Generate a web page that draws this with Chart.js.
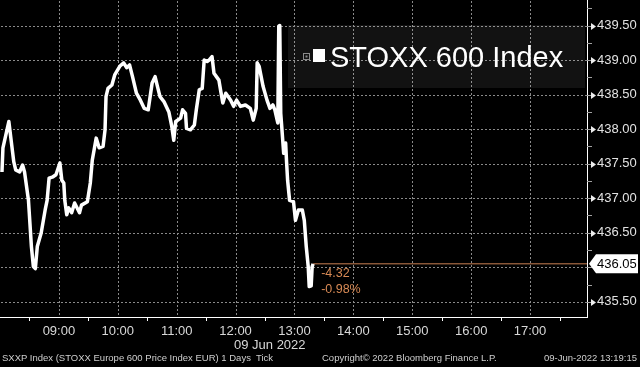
<!DOCTYPE html>
<html>
<head>
<meta charset="utf-8">
<script src="https://cdn.jsdelivr.net/npm/chart.js@4.4.1/dist/chart.umd.min.js"></script>
<style>
  html, body { margin: 0; padding: 0; background: #000; }
  #wrap { position: relative; width: 640px; height: 367px; overflow: hidden; font-family: "Liberation Sans", Arial, sans-serif; }
  #chart { position: absolute; left: 0; top: 0; }
  .txt { position: absolute; white-space: nowrap; color: #d8d8d8; }
  #day { left: 234px; top: 337px; font-size: 13px; }
  .foot { top: 352px; font-size: 9.5px; color: #cfcfcf; }
</style>
</head>
<body>
<div id="wrap">
  <canvas id="chart" width="640" height="367"></canvas>
  <div class="txt" id="day">09 Jun 2022</div>
  <div class="txt foot" style="left:2px">SXXP Index (STOXX Europe 600 Price Index EUR) 1 Days&nbsp; Tick</div>
  <div class="txt foot" style="left:322px">Copyright© 2022 Bloomberg Finance L.P.</div>
  <div class="txt foot" style="right:3px">09-Jun-2022 13:19:15</div>
</div>
<script>
// intraday ticks
const times = [
  '08:02', '08:03', '08:09', '08:14', '08:16', '08:20', '08:23', '08:25', '08:29', '08:32',
  '08:34', '08:36', '08:38', '08:42', '08:46', '08:48', '08:50', '08:54', '08:57', '09:01',
  '09:03', '09:05', '09:06', '09:08', '09:10', '09:13', '09:16', '09:21', '09:23', '09:29',
  '09:32', '09:34', '09:38', '09:41', '09:45', '09:47', '09:48', '09:50', '09:54', '09:57',
  '10:02', '10:06', '10:09', '10:12', '10:15', '10:19', '10:23', '10:27', '10:31', '10:35',
  '10:38', '10:40', '10:43', '10:47', '10:52', '10:55', '10:57', '10:59', '11:04', '11:06',
  '11:09', '11:10', '11:14', '11:18', '11:20', '11:23', '11:26', '11:28', '11:31', '11:33',
  '11:36', '11:38', '11:43', '11:45', '11:47', '11:50', '11:55', '11:58', '12:01', '12:05',
  '12:10', '12:15', '12:18', '12:21', '12:22', '12:24', '12:28', '12:32', '12:35', '12:38',
  '12:40', '12:43', '12:44', '12:45', '12:46', '12:47', '12:49', '12:51', '12:52', '12:53',
  '12:55', '12:59', '13:01', '13:04', '13:08', '13:10', '13:12', '13:14', '13:15', '13:17',
  '13:18', '13:19'
];
const prices = [
  437.38, 437.73, 438.11, 437.53, 437.41, 437.38, 437.48, 437.38, 436.97, 436.30,
  436.01, 435.98, 436.30, 436.50, 436.83, 436.97, 437.29, 437.31, 437.34, 437.51,
  437.26, 437.22, 436.97, 436.76, 436.86, 436.79, 436.93, 436.79, 436.90, 436.95,
  437.22, 437.55, 437.87, 437.73, 437.75, 437.99, 438.47, 438.59, 438.64, 438.79,
  438.91, 438.96, 438.89, 438.93, 438.76, 438.52, 438.42, 438.30, 438.28, 438.67,
  438.76, 438.64, 438.47, 438.40, 438.25, 438.04, 437.84, 438.11, 438.16, 438.28,
  438.23, 438.01, 437.99, 438.06, 438.28, 438.57, 438.59, 439.00, 438.98, 439.00,
  439.05, 438.81, 438.71, 438.54, 438.38, 438.52, 438.42, 438.33, 438.42, 438.33,
  438.35, 438.30, 438.13, 438.30, 438.96, 438.91, 438.62, 438.42, 438.30, 438.35,
  438.28, 438.09, 439.49, 439.50, 438.23, 438.04, 437.65, 437.80, 437.51, 437.26,
  436.97, 436.95, 436.68, 436.83, 436.83, 436.68, 436.30, 436.01, 435.72, 435.73,
  436.01, 436.05
];
const prevClose = 440.37;
const seriesName = 'STOXX 600 Index';

// axes: labelled hours / half-hour tick marks, 0.50 grid / 0.25 minor marks
const xHours = ['09:00', '10:00', '11:00', '12:00', '13:00', '14:00', '15:00', '16:00', '17:00'];
const xHalfHours = [
  '08:30', '09:30', '10:30', '11:30', '12:30', '13:30', '14:30', '15:30', '16:30', '17:30'
];
const xMin = '08:00';
const xMax = '17:58';
const yTicks = [435.5, 436.0, 436.5, 437.0, 437.5, 438.0, 438.5, 439.0, 439.5];
const yMinorTicks = [435.75, 436.25, 436.75, 437.25, 437.75, 438.25, 438.75, 439.25, 439.75];
const yMin = 435.28;
const yMax = 439.87;

const FONT = '"Liberation Sans", Arial, sans-serif';
const GRID = '#8a8a8a';
const toMin = (s) => {
  const [h, m] = s.split(':').map(Number);
  return h * 60 + m;
};

const last = prices[prices.length - 1];
const lastT = toMin(times[times.length - 1]);
const change = last - prevClose;
const changePct = (change / prevClose) * 100;

// dotted grid under the line, positions taken from the scales
// (dots are laid as small rects, setLineDash did not show up)
const dottedGrid = {
	id: 'dottedGrid',
	beforeDatasetsDraw(chart) {
		const { ctx, chartArea: a, scales } = chart;
		ctx.save();
		ctx.fillStyle = GRID;
		xHours.forEach((t) => {
			const px = Math.round(scales.x.getPixelForValue(toMin(t)));
			for (let py = a.top + 1; py < a.bottom - 1; py += 4) ctx.fillRect(px, py, 1, 2);
		});
		yTicks.forEach((v) => {
			const py = Math.round(scales.y.getPixelForValue(v));
			for (let px = a.left + 1; px < a.right - 1; px += 4) ctx.fillRect(px, py, 2, 1);
		});
		ctx.restore();
	},
};

// extra bits: tick marks, tick arrows, last price tag, change text, legend
const decor = {
	id: 'decor',
	afterDraw(chart) {
		const { ctx, chartArea: a, scales } = chart;
		const x = scales.x;
		const y = scales.y;
		ctx.save();

		// half-hour marks under the time axis
		ctx.fillStyle = '#ffffff';
		xHalfHours.forEach((t) => {
			const px = Math.round(x.getPixelForValue(toMin(t)));
			ctx.fillRect(px, a.bottom, 1, 4);
		});

		// marks right of the price axis
		ctx.fillStyle = '#a0a0a0';
		yMinorTicks.concat(yTicks).forEach((v) => {
			const py = Math.round(y.getPixelForValue(v));
			ctx.fillRect(a.right, py, 5, 1);
		});

		// arrows on labelled price ticks
		ctx.fillStyle = '#eeeeee';
		yTicks.forEach((v) => {
			if (Math.abs(v - last) < 0.1) return;
			const py = Math.round(y.getPixelForValue(v)) + 0.5;
			ctx.beginPath();
			ctx.moveTo(a.right + 4, py - 3.5);
			ctx.lineTo(a.right + 9, py);
			ctx.lineTo(a.right + 4, py + 3.5);
			ctx.closePath();
			ctx.fill();
		});

		// last price tag
		const ly = y.getPixelForValue(last);
		ctx.fillStyle = '#ffffff';
		ctx.beginPath();
		ctx.moveTo(a.right + 2, ly);
		ctx.lineTo(a.right + 9, ly - 9.5);
		ctx.lineTo(638, ly - 9.5);
		ctx.lineTo(638, ly + 9.5);
		ctx.lineTo(a.right + 9, ly + 9.5);
		ctx.closePath();
		ctx.fill();
		ctx.fillStyle = '#000000';
		ctx.font = '13px ' + FONT;
		ctx.textBaseline = 'middle';
		ctx.textAlign = 'left';
		ctx.fillText(last.toFixed(2), a.right + 10, ly + 1);

		// net / percent change
		const lx = x.getPixelForValue(lastT);
		ctx.fillStyle = '#d88a55';
		ctx.font = '12.5px ' + FONT;
		ctx.textBaseline = 'alphabetic';
		ctx.fillText(change.toFixed(2), lx + 8, ly + 13.5);
		ctx.fillText(changePct.toFixed(2) + '%', lx + 8, ly + 29.5);

		// legend box
		ctx.fillStyle = 'rgba(255,255,255,0.07)';
		ctx.fillRect(288, 25, a.right - 2 - 288, 63);
		ctx.strokeStyle = '#8a8a8a';
		ctx.lineWidth = 1;
		ctx.strokeRect(303.5, 53.5, 6, 6);
		ctx.fillStyle = '#8a8a8a';
		ctx.fillRect(305.5, 55.5, 2, 2);
		ctx.fillStyle = '#ffffff';
		ctx.fillRect(313, 49, 12, 13);
		ctx.font = '29px ' + FONT;
		ctx.fillText(seriesName, 330, 67);

		ctx.restore();
	},
};

new Chart(document.getElementById('chart'), {
	type: 'line',
	data: {
		datasets: [
			{
				label: seriesName,
				data: times.map((t, i) => ({ x: toMin(t), y: prices[i] })),
				borderColor: '#ffffff',
				borderWidth: 3.5,
				pointRadius: 0,
				tension: 0,
				borderJoinStyle: 'round',
				order: 1,
			},
			{
				label: 'last',
				data: [
					{ x: lastT, y: last },
					{ x: toMin(xMax), y: last },
				],
				borderColor: '#c97f52',
				borderWidth: 1,
				pointRadius: 0,
				order: 2,
			},
		],
	},
	options: {
		responsive: false,
		animation: false,
		layout: { padding: { left: 0, right: 0, top: 0, bottom: 14 } },
		plugins: {
			legend: { display: false },
			tooltip: { enabled: false },
		},
		scales: {
			x: {
				type: 'linear',
				min: toMin(xMin),
				max: toMin(xMax),
				afterBuildTicks: (s) => {
					s.ticks = xHours.map((t) => ({ value: toMin(t) }));
				},
				afterFit: (s) => {
					s.height = 36;
					s.paddingLeft = 0;
					s.paddingRight = 0;
				},
				grid: { drawOnChartArea: false, drawTicks: false },
				border: { color: '#ffffff', width: 1 },
				ticks: {
					autoSkip: false,
					maxRotation: 0,
					color: '#d8d8d8',
					font: { family: FONT, size: 13 },
					padding: 7,
					callback: (v) => String(Math.floor(v / 60)).padStart(2, '0') + ':00',
				},
			},
			y: {
				position: 'right',
				min: yMin,
				max: yMax,
				afterBuildTicks: (s) => {
					s.ticks = yTicks.map((v) => ({ value: v }));
				},
				afterFit: (s) => {
					s.width = 53;
					s.paddingTop = 0;
					s.paddingBottom = 0;
				},
				grid: { drawOnChartArea: false, drawTicks: false },
				border: { color: '#ffffff', width: 1 },
				ticks: {
					autoSkip: false,
					color: '#e2e2e2',
					font: { family: FONT, size: 13 },
					padding: 10,
					callback: (v) => (Math.abs(v - last) >= 0.1 ? v.toFixed(2) : ''),
				},
			},
		},
	},
	plugins: [dottedGrid, decor],
});
</script>
</body>
</html>
